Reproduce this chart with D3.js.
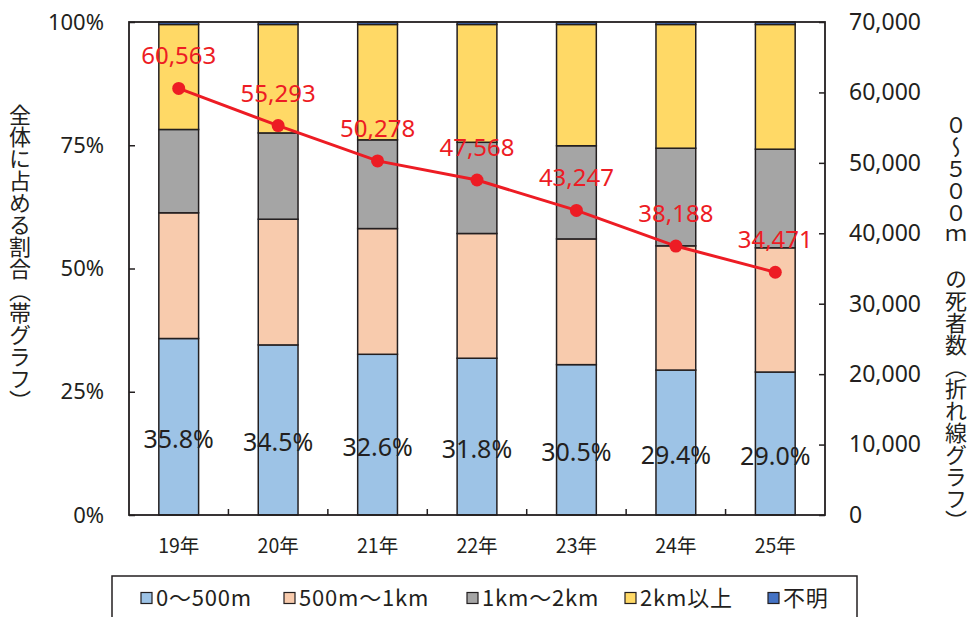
<!DOCTYPE html>
<html>
<head>
<meta charset="utf-8">
<script src="https://cdn.jsdelivr.net/npm/d3@7"></script>
<style>
  html, body { margin: 0; padding: 0; background: #fff; }
  svg { display: block; }
  text { font-family: "Noto Sans", "Noto Sans CJK JP", sans-serif; fill: #231f20; }
  .jp { font-family: "Noto Sans CJK JP", "Noto Sans", sans-serif; }
</style>
</head>
<body>
<svg id="chart" width="976" height="617"></svg>
<script>
// Years on the x axis
const years = ["19年", "20年", "21年", "22年", "23年", "24年", "25年"];

// Share of all deaths by distance band (%), stacked bottom to top
const share0to500 = [35.8, 34.5, 32.6, 31.8, 30.5, 29.4, 29.0];
const share500to1k = [25.5, 25.5, 25.5, 25.3, 25.5, 25.2, 25.2];
const share1kto2k = [16.9, 17.5, 18.0, 18.5, 18.9, 19.8, 20.0];
const share2kPlus = [21.3, 22.0, 23.4, 23.9, 24.6, 25.1, 25.3];
const shareUnknown = [0.5, 0.5, 0.5, 0.5, 0.5, 0.5, 0.5];

// Deaths within 0–500 m (line)
const deaths0to500 = [60563, 55293, 50278, 47568, 43247, 38188, 34471];

// Axis ticks
const pctTicks = [0, 25, 50, 75, 100];
const countTicks = [0, 10000, 20000, 30000, 40000, 50000, 60000, 70000];

const seriesNames = ["0〜500m", "500m〜1km", "1km〜2km", "2km以上", "不明"];
const seriesColors = ["#9dc3e6", "#f8cbad", "#a5a5a5", "#ffd966", "#4472c4"];
const seriesValues = [share0to500, share500to1k, share1kto2k, share2kPlus, shareUnknown];

const rows = years.map((y, i) => {
  const r = { year: y };
  seriesNames.forEach((n, k) => { r[n] = seriesValues[k][i]; });
  return r;
});

const svg = d3.select("#chart");
const plot = { left: 129, right: 825, top: 22, bottom: 515 };
const ink = "#231f20";
const red = "#ed1c24";

const x = d3.scaleBand().domain(years).range([plot.left, plot.right])
  .paddingInner(0.6).paddingOuter(0.3);
const yPct = d3.scaleLinear().domain([0, 100]).range([plot.bottom, plot.top]);
const yCnt = d3.scaleLinear().domain([0, 70000]).range([plot.bottom, plot.top]);

// Stacked bars
const stacked = d3.stack().keys(seriesNames)(rows);
svg.append("g").selectAll("g").data(stacked).join("g")
  .attr("fill", (d, i) => seriesColors[i])
  .selectAll("rect").data(d => d).join("rect")
  .attr("x", d => x(d.data.year))
  .attr("width", x.bandwidth())
  .attr("y", d => yPct(d[1]))
  .attr("height", d => yPct(d[0]) - yPct(d[1]))
  .attr("stroke", ink)
  .attr("stroke-width", 1.5);

// Plot frame
svg.append("rect")
  .attr("x", plot.left).attr("y", plot.top)
  .attr("width", plot.right - plot.left).attr("height", plot.bottom - plot.top)
  .attr("fill", "none").attr("stroke", ink).attr("stroke-width", 1.8);

// Left axis (percent)
const axL = svg.append("g").attr("transform", `translate(${plot.left},0)`)
  .call(d3.axisLeft(yPct).tickValues(pctTicks).tickFormat(d => d + "%")
    .tickSize(-6).tickPadding(25));
axL.select(".domain").remove();
axL.selectAll("line").attr("stroke", ink).attr("stroke-width", 1.5);
axL.selectAll("text").style("font-size", "22px").attr("fill", ink);

// Right axis (count)
const axR = svg.append("g").attr("transform", `translate(${plot.right},0)`)
  .call(d3.axisRight(yCnt).tickValues(countTicks).tickFormat(d3.format(","))
    .tickSize(-6).tickPadding(24));
axR.select(".domain").remove();
axR.selectAll("line").attr("stroke", ink).attr("stroke-width", 1.5);
axR.selectAll("text").style("font-size", "23px").attr("fill", ink);

// Bottom axis: category labels, and short ticks between categories
const axB = svg.append("g").attr("transform", `translate(0,${plot.bottom})`)
  .call(d3.axisBottom(x).tickSize(0).tickPadding(24));
axB.select(".domain").remove();
axB.selectAll("text").attr("class", "jp").style("font-size", "19.5px").attr("fill", ink);
const step = x.step();
svg.append("g").selectAll("line").data(d3.range(1, years.length)).join("line")
  .attr("x1", i => plot.left + i * step).attr("x2", i => plot.left + i * step)
  .attr("y1", plot.bottom).attr("y2", plot.bottom - 6)
  .attr("stroke", ink).attr("stroke-width", 1.5);

// Percentage labels inside the 0–500m segment
svg.append("g").selectAll("text").data(rows).join("text")
  .attr("x", d => x(d.year) + x.bandwidth() / 2)
  .attr("y", d => (yPct(0) + yPct(d["0〜500m"])) / 2 + 21)
  .attr("text-anchor", "middle")
  .style("font-size", "25px")
  .text(d => d["0〜500m"].toFixed(1) + "%");

// Line of deaths within 0–500m
const pts = years.map((y, i) => ({ year: y, v: deaths0to500[i] }));
svg.append("path").datum(pts)
  .attr("fill", "none").attr("stroke", red).attr("stroke-width", 3)
  .attr("d", d3.line().x(d => x(d.year) + x.bandwidth() / 2).y(d => yCnt(d.v)));
svg.append("g").selectAll("circle").data(pts).join("circle")
  .attr("cx", d => x(d.year) + x.bandwidth() / 2)
  .attr("cy", d => yCnt(d.v))
  .attr("r", 6.5).attr("fill", red);
svg.append("g").selectAll("text").data(pts).join("text")
  .attr("x", d => x(d.year) + x.bandwidth() / 2)
  .attr("y", d => yCnt(d.v) - 24)
  .attr("text-anchor", "middle")
  .style("font-size", "24px")
  .style("fill", red)
  .text(d => d3.format(",")(d.v));

// Axis titles (vertical)
svg.append("text").attr("class", "jp")
  .attr("x", 20).attr("y", 104)
  .attr("writing-mode", "vertical-rl")
  .style("font-size", "22px")
  .text("全体に占める割合（帯グラフ）");
svg.append("text").attr("class", "jp")
  .attr("x", 956).attr("y", 114)
  .attr("writing-mode", "vertical-rl")
  .style("font-size", "22px")
  .text("０～５００ｍ　の死者数（折れ線グラフ）");

// Legend
svg.append("rect")
  .attr("x", 112).attr("y", 576).attr("width", 745).attr("height", 60)
  .attr("fill", "#fff").attr("stroke", ink).attr("stroke-width", 1.5);
const legendX = [141, 284, 467, 625, 768];
const lg = svg.append("g").selectAll("g").data(seriesNames).join("g")
  .attr("transform", (d, i) => `translate(${legendX[i]},598)`);
lg.append("rect").attr("x", 0).attr("y", -5.5).attr("width", 11).attr("height", 11)
  .attr("fill", (d, i) => seriesColors[i]).attr("stroke", ink).attr("stroke-width", 1.2);
lg.append("text").attr("class", "jp").attr("x", 15).attr("y", 8)
  .style("font-size", "22px").style("letter-spacing", "0.8px").text(d => d);
</script>
</body>
</html>
